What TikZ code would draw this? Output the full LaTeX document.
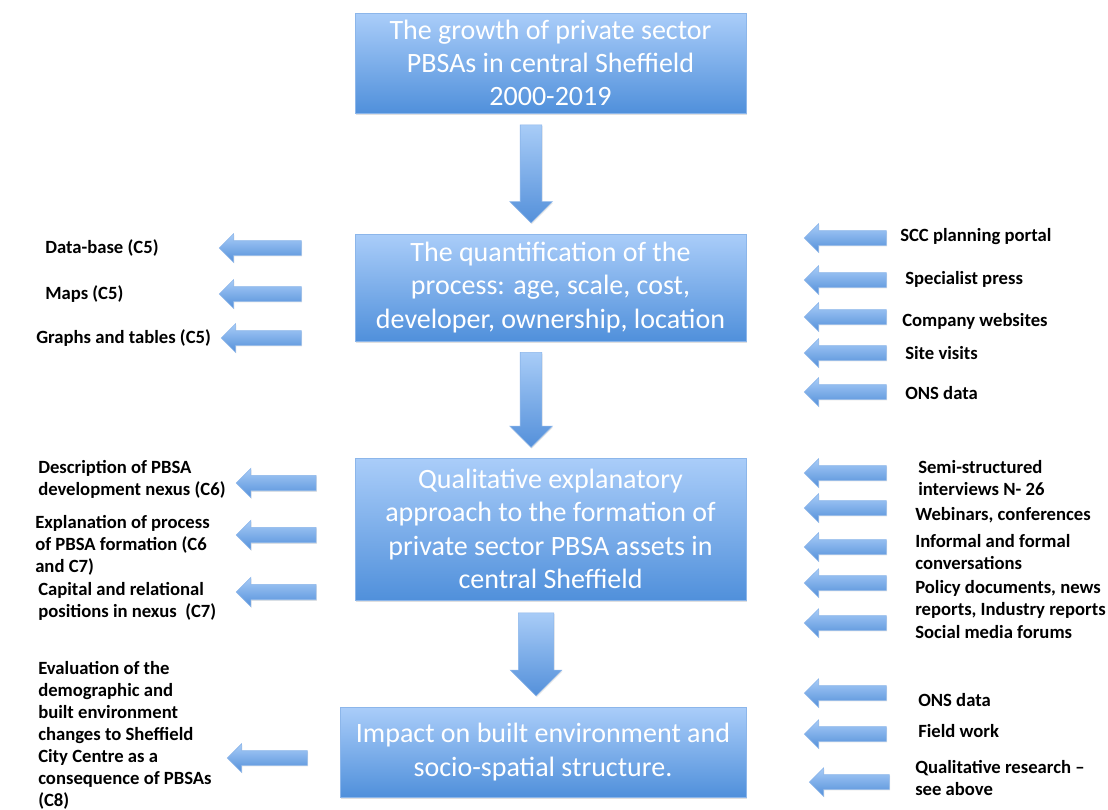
\documentclass[tikz,border=0pt]{standalone}
\usepackage{fontspec}
\setmainfont{Carlito}
\usetikzlibrary{shapes.arrows, shadows, calc, positioning}
\definecolor{boxtop}{RGB}{170,205,249}
\definecolor{boxbot}{RGB}{80,144,219}
\definecolor{boxline}{RGB}{140,182,234}
\definecolor{arrtop}{RGB}{168,204,247}
\definecolor{arrbot}{RGB}{84,144,218}

\begin{document}
\begin{tikzpicture}[x=0.75pt, y=-0.75pt,
    box/.style={draw=boxline, line width=0.6pt, top color=boxtop, bottom color=boxbot,
      text=white, align=center, inner sep=0pt, font=\fontsize{21}{25}\selectfont,
      drop shadow={opacity=0.25, shadow xshift=0.8pt, shadow yshift=-1.2pt}},
    lab/.style={anchor=west, align=left, inner sep=0pt, font=\fontsize{14}{16.5}\selectfont\bfseries},
    blockarr/.style={single arrow, draw=boxline, line width=0.4pt, top color=arrtop, bottom color=arrbot,
      drop shadow={opacity=0.2, shadow xshift=0.6pt, shadow yshift=-0.9pt}},
    larr/.style={blockarr, shape border rotate=180, minimum height=61.5pt, inner sep=5.25pt,
      single arrow head extend=5.25pt},
    darr/.style={blockarr, shape border rotate=270, inner sep=7.9pt, single arrow head extend=7.9pt}]
  \fill[white] (0,0) rectangle (1108,810);
  \useasboundingbox (0,0) rectangle (1108,810);

  % main column
  \node[box, minimum width=293.25pt, minimum height=75pt] (growth) at (550.5,63)
    {The growth of private sector\\PBSAs in central Sheffield\\2000-2019};
  \node[box, minimum width=293.25pt, minimum height=80.25pt] (quant) at (550.5,287.5)
    {The quantification of the\\process: age, scale, cost,\\developer, ownership, location};
  \node[box, minimum width=293.25pt, minimum height=106.5pt] (qual) at (550.5,529)
    {Qualitative explanatory\\approach to the formation of\\private sector PBSA assets in\\central Sheffield};
  \node[box, minimum width=304.5pt, minimum height=67.5pt] (impact) at (543,752)
    {Impact on built environment and\\socio-spatial structure.};

  \node[darr, minimum height=73.5pt, xshift=-14.6pt, yshift=3.75pt] (down1) at ($(growth.south)!0.5!(quant.north)$) {};
  \node[darr, minimum height=71.25pt, xshift=-14.6pt, yshift=3.75pt] (down2) at ($(quant.south)!0.5!(qual.north)$) {};
  \node[darr, minimum height=62.25pt, inner sep=13.1pt, single arrow head extend=6pt, xshift=-8pt, yshift=6pt]
    (down3) at ($(qual.south)!0.5!(impact.north)$) {};

  % outputs (left)
  \node[lab] (db) at (45,248) {Data-base (C5)};
  \node[lab] (maps) at (45,294) {Maps (C5)};
  \node[lab] (graphs) at (36,338) {Graphs and tables (C5)};
  \node[larr] (adb) at (264,248) {};
  \node[larr] (amaps) at (264,294) {};
  \node[larr, minimum height=60pt] (agraphs) at (265,338) {};

  \node[lab] (desc) at (38,479) {Description of PBSA\\development nexus (C6)};
  \node[lab] (expl) at (35,545) {Explanation of process\\of PBSA formation (C6\\and C7)};
  \node[lab] (cap) at (38,601) {Capital and relational\\positions in nexus \ (C7)};
  \node[larr, minimum height=60pt, inner sep=5.6pt] (adesc) at (280,483) {};
  \node[larr, minimum height=60pt, inner sep=5.6pt] (aexpl) at (280,535) {};
  \node[larr, minimum height=60pt, inner sep=5.6pt] (acap) at (280,592) {};

  \node[lab] (eval) at (38,735) {Evaluation of the\\demographic and\\built environment\\changes to Sheffield\\City Centre as a\\consequence of PBSAs\\(C8)};
  \node[larr, minimum height=60pt] (aeval) at (271,758) {};

  % sources (right)
  \node[lab] (scc) at (900,237) {SCC planning portal};
  \node[lab] (spec) at (905,279) {Specialist press};
  \node[lab] (comp) at (902,321) {Company websites};
  \node[lab] (site) at (905,353) {Site visits};
  \node[lab] (ons1) at (905,393) {ONS data};
  \foreach \y [count=\i] in {238,280,317,353,392}
    \node[larr] (aq\i) at (849,\y) {};

  \node[lab] (semi) at (918,478) {Semi-structured\\interviews N- 26};
  \node[lab] (web) at (915,515) {Webinars, conferences};
  \node[lab] (inf) at (915,552) {Informal and formal\\conversations};
  \node[lab] (pol) at (915,599) {Policy documents, news\\reports, Industry reports};
  \node[lab] (soc) at (915,632) {Social media forums};
  \foreach \y [count=\i] in {473,508,547,583,623}
    \node[larr] (ar\i) at (849,\y) {};

  \node[lab] (ons2) at (918,700) {ONS data};
  \node[lab] (field) at (918,731) {Field work};
  \node[lab] (qres) at (915,778) {Qualitative research --\\see above};
  \node[larr] (ai1) at (849,693) {};
  \node[larr] (ai2) at (849,734) {};
  \node[larr, minimum height=60pt] (ai3) at (853,782) {};
\end{tikzpicture}
\end{document}
